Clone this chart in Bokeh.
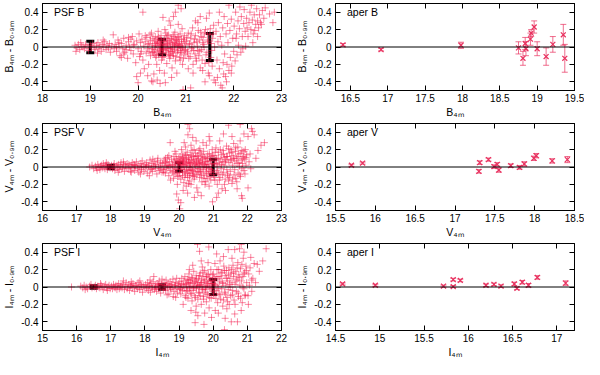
from bokeh.plotting import figure
from bokeh.models import (Range1d, FixedTicker, LinearAxis, Span, Label, Whisker,
                          TeeHead, ColumnDataSource, CustomJSTickFormatter)
from bokeh.layouts import gridplot
from bokeh.embed import file_html
from bokeh.resources import INLINE

# ---------------- data ----------------
# PSF B: (B_4m, B_4m - B_0.9m)
psf_b_points = [
    (18.68, 0.02), (18.72, -0.01), (18.75, 0.03), (18.78, -0.03), (18.82, 0.01), (18.85, 0.0),
    (18.88, -0.02), (18.9, 0.03), (18.93, 0.01), (18.96, -0.04), (19.0, 0.02), (19.02, -0.01),
    (19.05, 0.04), (19.08, 0.0), (19.1, -0.03), (19.13, 0.02), (19.16, 0.05), (19.18, -0.02),
    (19.2, 0.01), (19.23, -0.05), (19.25, 0.03), (19.28, 0.0), (19.3, 0.06), (19.33, -0.03),
    (19.35, 0.02), (19.38, -0.01), (19.4, 0.04), (19.42, -0.06), (19.45, 0.01), (19.48, 0.14),
    (19.5, -0.02), (18.8, 0.05), (18.7, -0.05), (19.15, -0.07), (19.27, 0.08),
    (19.52, 0.03), (19.55, -0.05), (19.58, 0.08), (19.6, 0.0), (19.62, -0.1), (19.65, 0.04),
    (19.68, -0.02), (19.7, 0.1), (19.72, -0.06), (19.75, 0.02), (19.78, -0.13), (19.8, 0.06),
    (19.82, 0.0), (19.85, -0.04), (19.88, 0.12), (19.9, -0.08), (19.92, 0.03), (19.95, -0.18),
    (19.97, 0.07), (20.0, -0.02), (20.02, 0.15), (20.03, -0.11), (20.05, 0.05), (20.07, -0.05),
    (20.08, 0.09), (20.1, 0.4), (20.1, -0.15), (20.12, 0.01), (20.13, -0.25), (20.15, 0.06),
    (20.17, -0.07), (20.18, 0.11), (20.2, -0.02), (20.22, -0.2), (20.23, 0.04), (20.25, 0.14),
    (20.26, -0.1), (20.28, 0.16), (20.28, -0.39), (20.3, 0.02), (20.31, -0.4), (20.32, -0.06),
    (19.97, -0.34), (20.0, -0.41), (20.05, -0.3), (19.65, -0.12), (19.85, 0.09), (20.2, -0.33),
    (20.33, -0.31), (20.34, 0.07), (20.35, -0.03), (20.36, 0.12), (20.37, -0.12), (20.38, 0.02),
    (20.39, -0.2), (20.4, 0.05), (20.41, -0.05), (20.42, 0.18), (20.43, -0.09), (20.44, 0.0),
    (20.45, -0.27), (20.46, 0.09), (20.47, -0.02), (20.48, 0.13), (20.49, -0.15), (20.5, 0.03),
    (20.51, -0.07), (20.52, 0.34), (20.53, 0.06), (20.54, -0.11), (20.55, 0.01), (20.56, 0.2),
    (20.57, -0.41), (20.58, -0.04), (20.59, 0.1), (20.6, -0.19), (20.61, 0.04), (20.62, -0.01),
    (20.63, 0.14), (20.64, -0.08), (20.65, 0.07), (20.66, -0.13), (20.67, 0.0), (20.68, 0.25),
    (20.69, -0.05), (20.7, 0.09), (20.71, -0.24), (20.72, 0.03), (20.73, 0.12), (20.74, 0.35),
    (20.74, -0.1), (20.75, 0.05), (20.76, -0.03), (20.77, 0.17), (20.78, -0.16), (20.79, 0.02),
    (20.8, 0.08), (20.81, -0.3), (20.82, -0.06), (20.83, 0.11), (20.84, 0.48), (20.84, 0.26),
    (20.85, -0.01), (20.86, 0.06), (20.87, -0.12), (20.88, 0.15), (20.89, 0.0), (20.9, 0.44),
    (20.9, -0.07), (20.91, 0.04), (20.92, 0.21), (20.93, -0.2), (20.94, -0.49), (20.95, 0.09),
    (20.96, -0.04), (20.97, 0.13), (20.98, -0.09), (20.99, 0.02), (20.36, 0.0), (20.44, 0.04),
    (20.52, -0.02), (20.6, 0.02), (20.68, -0.02), (20.76, 0.01), (20.84, 0.03), (20.92, -0.02),
    (20.4, -0.38), (20.46, -0.42), (20.55, -0.3), (20.65, 0.3), (20.78, 0.4), (20.7, -0.35),
    (21.01, 0.07), (21.03, -0.05), (21.05, 0.16), (21.06, -0.13), (21.08, 0.03), (21.1, -0.47),
    (21.1, 0.1), (21.12, -0.02), (21.14, 0.22), (21.15, -0.2), (21.17, 0.05), (21.19, -0.08),
    (21.2, 0.13), (21.22, -0.16), (21.24, 0.01), (21.25, 0.28), (21.27, -0.1), (21.28, 0.08),
    (21.3, -0.24), (21.31, 0.17), (21.33, -0.03), (21.35, -0.27), (21.36, 0.11), (21.38, 0.0),
    (21.4, -0.19), (21.41, 0.2), (21.43, 0.33), (21.44, -0.06), (21.46, 0.06), (21.47, -0.3),
    (21.49, 0.39), (21.49, -0.33), (21.5, 0.14), (21.52, -0.12), (21.53, 0.04), (21.55, -0.22),
    (21.56, 0.1), (21.58, 0.25), (21.59, -0.38), (21.6, 0.0), (21.62, -0.41), (21.2, 0.3),
    (21.3, 0.35), (21.15, -0.3), (21.4, -0.4), (21.05, -0.25), (21.45, 0.15), (21.35, 0.05),
    (21.25, -0.04),
    (21.63, 0.18), (21.65, -0.15), (21.67, 0.06), (21.68, 0.28), (21.7, -0.25), (21.72, 0.12),
    (21.73, -0.44), (21.75, 0.02), (21.76, -0.47), (21.77, 0.22), (21.79, -0.31), (21.8, 0.35),
    (21.81, -0.08), (21.83, -0.34), (21.84, 0.15), (21.86, -0.2), (21.87, 0.27), (21.88, 0.05),
    (21.9, -0.27), (21.9, 0.48), (21.92, 0.19), (21.93, -0.12), (21.95, 0.32), (21.96, -0.22),
    (21.98, 0.1), (22.0, -0.05), (22.01, 0.24), (22.03, -0.16), (22.04, 0.4), (22.06, 0.15),
    (22.07, -0.09), (22.09, 0.3), (22.1, 0.02), (22.12, 0.21), (22.13, 0.46), (22.15, -0.06),
    (22.16, 0.35), (22.18, 0.12), (22.19, -0.02), (22.21, 0.27), (22.22, 0.43), (22.24, 0.18),
    (22.25, 0.01), (22.27, 0.33), (22.28, 0.22), (22.3, 0.12), (21.7, 0.4), (21.85, -0.4),
    (21.95, -0.3), (21.78, -0.18), (22.05, 0.1), (21.66, -0.35),
    (22.32, 0.28), (22.34, 0.4), (22.36, 0.2), (22.37, 0.48), (22.39, 0.31), (22.41, 0.15),
    (22.43, 0.37), (22.44, 0.19), (22.46, 0.26), (22.48, 0.44), (22.5, 0.3), (22.52, 0.22),
    (22.54, 0.37), (22.56, 0.28), (22.58, 0.26), (22.6, 0.42), (22.63, 0.33), (22.66, 0.45),
    (22.75, 0.38), (22.82, 0.28), (22.85, 0.4), (22.4, 0.05), (22.5, 0.12),
]
psf_b_core = [
    (20.21, 0.03), (20.23, -0.05), (20.26, 0.08), (20.29, -0.02), (20.31, 0.1), (20.34, -0.08),
    (20.36, 0.04), (20.38, -0.1), (20.41, 0.06), (20.43, 0.11), (20.45, -0.04), (20.47, 0.02),
    (20.49, 0.07), (20.51, -0.12), (20.53, -0.03), (20.55, 0.09), (20.57, 0.03), (20.59, -0.06),
    (20.61, 0.13), (20.63, -0.02), (20.65, -0.09), (20.67, 0.05), (20.69, 0.1), (20.71, -0.01),
    (20.73, -0.07), (20.75, 0.14), (20.77, 0.04), (20.79, -0.11), (20.81, 0.07), (20.83, -0.04),
    (20.85, 0.12), (20.87, 0.02), (20.89, -0.06), (20.91, 0.09), (20.93, 0.0), (20.95, -0.13),
    (20.97, 0.06), (20.99, -0.03), (21.02, 0.11), (21.04, -0.07), (21.07, 0.04), (21.09, -0.11),
    (21.11, 0.15), (21.13, 0.0), (21.16, -0.04), (21.18, 0.09), (21.21, -0.13), (21.23, 0.06),
    (21.26, 0.19), (21.29, -0.05), (21.32, 0.12), (21.34, -0.15), (21.37, 0.03), (21.39, 0.16),
    (21.42, -0.09), (21.45, 0.08), (21.48, -0.18), (21.51, 0.21), (21.54, -0.04), (21.57, 0.15),
    (20.62, 0.07), (20.72, -0.05), (20.82, 0.01), (20.48, -0.06), (20.58, 0.16), (20.78, 0.09),
    (20.88, -0.15), (20.68, -0.1), (20.4, 0.09), (20.3, -0.06), (19.6, 0.05), (19.75, -0.03),
    (19.9, 0.02), (20.05, -0.08), (19.8, 0.11), (19.7, -0.08), (20.15, 0.13), (19.55, 0.0),
]

psf_v_points = [
    (17.38, 0.0), (17.45, 0.02), (17.5, -0.02), (17.55, 0.01), (17.58, -0.01), (17.62, 0.03),
    (17.65, 0.0), (17.68, -0.03), (17.7, 0.01), (17.73, 0.02), (17.75, -0.01), (17.78, 0.04),
    (17.8, 0.0), (17.83, -0.02), (17.85, 0.02), (17.88, 0.01), (17.9, -0.03), (17.92, 0.03),
    (17.95, 0.0), (17.98, -0.01), (18.02, 0.02), (18.05, -0.02), (18.08, 0.01), (18.1, 0.04),
    (18.12, -0.04), (18.15, 0.0), (18.18, 0.02), (18.2, -0.01), (18.23, 0.03), (18.25, -0.03),
    (18.28, 0.01), (18.3, 0.05), (18.33, -0.02), (18.35, 0.0), (18.38, 0.03), (18.4, -0.05),
    (18.43, 0.02), (18.45, -0.01), (18.48, 0.04), (17.6, -0.04), (17.87, 0.05), (18.22, -0.06),
    (18.37, 0.06),
    (18.51, -0.02), (18.53, 0.03), (18.56, 0.0), (18.58, -0.05), (18.6, 0.02), (18.63, 0.05),
    (18.65, -0.01), (18.68, 0.03), (18.7, -0.04), (18.72, 0.01), (18.75, 0.06), (18.78, -0.02),
    (18.8, 0.02), (18.82, -0.06), (18.85, 0.0), (18.88, 0.04), (18.9, -0.03), (18.92, 0.07),
    (18.95, 0.01), (18.97, -0.05), (19.0, 0.03), (19.02, -0.01), (19.05, 0.05), (19.07, -0.07),
    (19.1, 0.02), (19.12, 0.0), (19.15, 0.08), (19.17, -0.03), (19.2, 0.04), (19.22, -0.05),
    (19.25, 0.01), (19.27, 0.06), (19.3, -0.02), (19.32, 0.03), (19.35, -0.08), (19.37, 0.07),
    (19.4, 0.0), (19.42, -0.04), (19.45, 0.05), (19.47, 0.02), (19.5, -0.06), (18.6, -0.06),
    (18.87, -0.08), (19.13, -0.1), (19.38, 0.1), (19.23, 0.09),
    (19.52, 0.04), (19.54, -0.03), (19.56, 0.08), (19.58, 0.0), (19.6, -0.07), (19.62, 0.05),
    (19.64, -0.02), (19.66, 0.11), (19.68, 0.02), (19.7, -0.1), (19.72, 0.06), (19.74, 0.28),
    (19.74, -0.04), (19.76, 0.01), (19.78, 0.09), (19.8, -0.06), (19.82, 0.03), (19.84, -0.13),
    (19.85, 0.12), (19.87, 0.0), (19.88, -0.08), (19.9, 0.05), (19.91, 0.15), (19.93, -0.31),
    (19.93, -0.03), (19.95, 0.07), (19.96, -0.11), (19.98, -0.38), (19.98, 0.02), (19.99, 0.1),
    (19.6, 0.1), (19.7, 0.13), (19.75, -0.15), (19.88, 0.18), (19.95, -0.2), (19.55, -0.06),
    (19.65, 0.02),
    (20.01, 0.05), (20.02, -0.48), (20.02, -0.06), (20.03, 0.12), (20.04, 0.0), (20.05, -0.41),
    (20.05, -0.14), (20.06, 0.08), (20.07, 0.2), (20.08, -0.03), (20.09, 0.03), (20.1, -0.1),
    (20.11, 0.15), (20.12, -0.27), (20.12, 0.01), (20.13, 0.07), (20.14, -0.18), (20.15, 0.1),
    (20.16, -0.05), (20.17, 0.02), (20.18, 0.13), (20.19, 0.23), (20.19, -0.08), (20.2, 0.04),
    (20.21, -0.22), (20.22, 0.09), (20.23, -0.01), (20.24, 0.17), (20.25, -0.12), (20.26, 0.49),
    (20.26, 0.37), (20.27, 0.06), (20.28, -0.04), (20.29, 0.11), (20.3, -0.16), (20.31, 0.44),
    (20.31, 0.02), (20.32, -0.07), (20.33, 0.14), (20.34, 0.0), (20.35, -0.2), (20.36, 0.08),
    (20.37, -0.03), (20.38, 0.19), (20.39, -0.1), (20.4, 0.34), (20.4, 0.05), (20.41, -0.05),
    (20.42, 0.12), (20.44, -0.14), (20.45, 0.03), (20.46, 0.09), (20.47, -0.02), (20.48, 0.16),
    (20.5, -0.09), (20.51, 0.06), (20.52, -0.24), (20.53, 0.01), (20.54, 0.13), (20.55, -0.29),
    (20.56, -0.05), (20.57, 0.1), (20.58, 0.03), (20.6, -0.12), (20.61, 0.21), (20.62, 0.0),
    (20.63, 0.07), (20.64, -0.07), (20.66, 0.14), (20.67, -0.17), (20.68, 0.04), (20.69, 0.09),
    (20.7, -0.03), (20.72, 0.18), (20.73, -0.1), (20.74, 0.02), (20.75, 0.11), (20.76, -0.2),
    (20.78, 0.06), (20.79, -0.05), (20.8, 0.25), (20.81, 0.0), (20.82, -0.13), (20.84, 0.1),
    (20.85, 0.03), (20.86, -0.08), (20.88, 0.35), (20.88, -0.22), (20.89, 0.15), (20.9, -0.02),
    (20.91, 0.07), (20.93, -0.15), (20.94, 0.12), (20.95, 0.01), (20.96, -0.06), (20.97, 0.2),
    (20.98, -0.4), (20.99, 0.04), (20.15, 0.28), (20.35, 0.25), (20.5, 0.3), (20.65, -0.33),
    (20.7, 0.28), (20.9, 0.3), (20.45, -0.35), (20.25, -0.3), (20.6, 0.05), (20.3, 0.05),
    (20.1, 0.06), (20.8, -0.01),
    (21.01, -0.09), (21.02, 0.13), (21.04, 0.03), (21.05, -0.15), (21.06, 0.08), (21.08, 0.22),
    (21.09, -0.04), (21.1, 0.1), (21.12, -0.2), (21.13, 0.01), (21.15, 0.17), (21.16, -0.08),
    (21.18, 0.05), (21.19, 0.3), (21.2, -0.12), (21.22, 0.09), (21.23, -0.02), (21.25, 0.14),
    (21.26, -0.25), (21.28, 0.06), (21.29, 0.19), (21.3, -0.06), (21.32, 0.02), (21.33, 0.11),
    (21.35, -0.14), (21.36, -0.27), (21.37, 0.08), (21.39, 0.24), (21.4, -0.03), (21.42, 0.12),
    (21.43, -0.1), (21.45, 0.48), (21.45, -0.16), (21.46, 0.05), (21.48, 0.16), (21.5, -0.05),
    (21.52, 0.2), (21.53, 0.09), (21.55, -0.19), (21.57, 0.02), (21.58, 0.13), (21.6, 0.27),
    (21.61, -0.09), (21.63, 0.07), (21.65, 0.18), (21.66, -0.13), (21.68, 0.1), (21.7, 0.04),
    (21.72, 0.23), (21.73, -0.07), (21.75, 0.15), (21.77, 0.01), (21.79, 0.49), (21.79, 0.3),
    (21.8, -0.11), (21.82, 0.08), (21.83, -0.33), (21.84, 0.19), (21.85, -0.36), (21.86, 0.04),
    (21.88, 0.12), (21.9, -0.04), (21.92, 0.09), (21.94, 0.2), (21.96, 0.02), (21.98, 0.14),
    (21.15, -0.3), (21.55, 0.35), (21.7, -0.25), (21.3, 0.38), (21.9, 0.38), (21.1, -0.35),
    (22.02, 0.35), (22.02, -0.24), (22.05, 0.06), (22.08, 0.15), (22.12, 0.44), (22.15, 0.41),
    (22.2, 0.37), (22.25, 0.1), (22.31, 0.19), (22.4, 0.25), (22.5, 0.28), (22.1, -0.02),
]
psf_v_core = [
    (19.81, 0.02), (19.83, -0.05), (19.86, 0.07), (19.89, -0.02), (19.92, 0.09), (19.94, -0.07),
    (19.97, 0.04), (20.0, -0.1), (20.03, 0.06), (20.06, -0.01), (20.09, 0.11), (20.11, -0.06),
    (20.14, 0.03), (20.17, -0.12), (20.2, 0.14), (20.23, 0.05), (20.25, -0.07), (20.28, 0.09),
    (20.31, -0.1), (20.34, 0.04), (20.37, 0.13), (20.39, -0.04), (20.42, 0.07), (20.45, -0.11),
    (20.48, 0.02), (20.5, 0.12), (20.53, -0.06), (20.56, 0.08), (20.59, -0.02), (20.62, 0.16),
    (20.65, -0.09), (20.67, 0.05), (20.7, 0.12), (20.73, -0.13), (20.76, 0.03), (20.79, 0.1),
    (20.81, -0.07), (20.84, 0.15), (20.87, 0.0), (20.9, -0.11), (20.93, 0.08), (20.95, -0.03),
    (20.98, 0.13), (21.03, -0.12), (21.06, 0.17), (21.09, 0.04), (21.12, -0.06), (21.15, 0.1),
    (21.18, -0.15), (21.21, 0.2), (21.24, 0.03), (21.27, -0.09), (21.3, 0.15), (21.33, -0.2),
    (21.36, 0.06), (21.39, 0.12), (21.42, -0.08), (21.45, 0.21), (21.48, -0.12), (21.51, 0.08),
    (21.54, 0.17), (21.57, -0.14), (21.6, 0.1), (21.63, -0.03), (21.66, 0.22), (21.69, -0.17),
    (21.72, 0.12), (21.75, 0.05), (21.78, -0.09), (21.81, 0.16), (21.84, -0.02), (21.87, 0.1),
    (21.9, 0.18), (21.93, -0.08), (21.96, 0.11), (20.12, 0.08), (20.22, -0.03), (20.32, 0.0),
    (20.42, -0.08), (20.52, 0.04), (20.62, -0.05), (20.72, 0.0), (20.82, 0.06), (20.92, -0.05),
    (20.44, 0.2), (20.58, 0.19), (20.78, -0.17), (20.28, -0.19), (19.3, 0.01), (19.45, -0.02),
    (19.6, 0.06), (19.7, 0.0), (18.9, 0.0), (19.05, 0.01), (19.2, -0.02), (18.7, 0.02),
]

psf_i_points = [
    (15.85, 0.0), (16.12, 0.01), (16.18, -0.01), (16.22, 0.02), (16.28, 0.0), (16.32, -0.02),
    (16.38, 0.01), (16.42, 0.03), (16.45, -0.01), (16.52, 0.0), (16.55, 0.02), (16.58, -0.02),
    (16.62, 0.01), (16.65, 0.0), (16.68, -0.01), (16.72, 0.02), (16.75, 0.0), (16.78, -0.03),
    (16.82, 0.01), (16.85, 0.03), (16.88, -0.01), (16.92, 0.0), (16.95, 0.02), (16.98, -0.02),
    (16.25, -0.03), (16.7, 0.04), (16.9, -0.04),
    (17.02, 0.01), (17.05, -0.02), (17.08, 0.03), (17.1, 0.0), (17.13, -0.01), (17.15, 0.02),
    (17.18, -0.03), (17.2, 0.01), (17.23, 0.04), (17.25, -0.02), (17.28, 0.0), (17.3, 0.02),
    (17.33, -0.01), (17.35, 0.03), (17.37, 0.07), (17.4, -0.03), (17.42, 0.01), (17.45, 0.05),
    (17.48, -0.02), (17.5, 0.0), (17.53, 0.03), (17.55, -0.04), (17.58, 0.01), (17.6, 0.02),
    (17.63, -0.01), (17.65, 0.04), (17.68, 0.0), (17.7, -0.05), (17.73, 0.02), (17.75, 0.01),
    (17.78, -0.02), (17.8, 0.05), (17.83, 0.0), (17.85, -0.03), (17.88, 0.03), (17.9, 0.01),
    (17.93, -0.06), (17.95, 0.02), (17.98, -0.01), (17.6, 0.06), (17.85, 0.07),
    (18.02, 0.03), (18.04, -0.02), (18.06, 0.0), (18.08, 0.05), (18.1, -0.04), (18.12, 0.01),
    (18.14, 0.02), (18.16, -0.06), (18.18, 0.04), (18.2, 0.0), (18.22, -0.02), (18.24, 0.06),
    (18.26, 0.12), (18.28, -0.03), (18.3, 0.02), (18.32, 0.0), (18.34, -0.05), (18.36, 0.04),
    (18.38, 0.01), (18.4, -0.02), (18.42, 0.07), (18.44, 0.0), (18.46, -0.07), (18.48, 0.03),
    (18.52, 0.01), (18.54, -0.03), (18.56, 0.05), (18.58, 0.0), (18.6, -0.04), (18.62, 0.08),
    (18.64, 0.02), (18.66, -0.01), (18.68, 0.04), (18.7, -0.08), (18.72, 0.01), (18.74, 0.06),
    (18.76, -0.03), (18.78, 0.03), (18.8, 0.0), (18.82, 0.09), (18.83, -0.11), (18.85, -0.05),
    (18.87, 0.02), (18.89, 0.05), (18.91, -0.02), (18.93, 0.1), (18.95, -0.07), (18.97, 0.01),
    (18.99, 0.04), (18.5, 0.09), (18.65, -0.09), (18.9, -0.12), (18.15, 0.08),
    (19.01, -0.03), (19.02, 0.06), (19.04, 0.0), (19.05, -0.08), (19.07, 0.03), (19.08, 0.1),
    (19.1, -0.04), (19.12, -0.2), (19.12, 0.02), (19.14, 0.07), (19.15, -0.01), (19.17, 0.12),
    (19.18, -0.1), (19.2, 0.04), (19.21, -0.05), (19.23, 0.0), (19.24, 0.09), (19.26, -0.13),
    (19.27, 0.05), (19.29, 0.15), (19.3, -0.02), (19.32, 0.08), (19.33, -0.07), (19.35, -0.27),
    (19.35, 0.01), (19.37, 0.11), (19.38, -0.16), (19.4, 0.04), (19.41, -0.04), (19.43, 0.18),
    (19.44, 0.0), (19.46, -0.1), (19.47, -0.41), (19.48, 0.07), (19.49, -0.29), (19.5, 0.13),
    (19.51, -0.02), (19.53, 0.05), (19.54, 0.49), (19.55, -0.33), (19.55, -0.14), (19.57, 0.1),
    (19.58, 0.01), (19.6, 0.41), (19.6, -0.07), (19.62, 0.16), (19.63, 0.03), (19.65, -0.2),
    (19.66, 0.08), (19.68, 0.23), (19.68, -0.03), (19.7, 0.12), (19.71, -0.11), (19.73, -0.43),
    (19.73, 0.05), (19.75, 0.19), (19.76, -0.06), (19.78, 0.0), (19.79, 0.09), (19.8, -0.17),
    (19.82, 0.14), (19.83, 0.02), (19.85, -0.09), (19.87, 0.46), (19.87, 0.06), (19.88, -0.24),
    (19.9, 0.11), (19.91, -0.01), (19.93, 0.2), (19.94, -0.13), (19.96, 0.04), (19.97, 0.08),
    (19.99, -0.05), (19.4, 0.25), (19.5, -0.22), (19.65, 0.3), (19.75, -0.3), (19.85, 0.28),
    (19.95, -0.35), (19.3, 0.2), (19.2, -0.12),
    (20.01, 0.15), (20.02, -0.1), (20.04, 0.03), (20.05, 0.27), (20.06, -0.27), (20.07, 0.08),
    (20.09, -0.04), (20.1, 0.38), (20.11, 0.12), (20.13, -0.18), (20.14, 0.01), (20.16, 0.2),
    (20.17, -0.08), (20.19, 0.06), (20.2, 0.3), (20.22, -0.14), (20.23, 0.1), (20.25, -0.02),
    (20.26, 0.17), (20.28, -0.22), (20.29, 0.04), (20.31, 0.24), (20.33, -0.49), (20.33, -0.06),
    (20.35, -0.36), (20.35, 0.13), (20.37, 0.02), (20.39, 0.19), (20.4, -0.12), (20.42, 0.07),
    (20.44, 0.43), (20.44, -0.03), (20.46, 0.22), (20.47, -0.2), (20.49, 0.1), (20.5, 0.0),
    (20.52, 0.16), (20.53, -0.4), (20.55, 0.05), (20.56, -0.09), (20.58, 0.25), (20.6, 0.12),
    (20.61, -0.15), (20.63, -0.31), (20.63, 0.43), (20.64, 0.03), (20.66, 0.18), (20.68, -0.05),
    (20.7, 0.09), (20.71, -0.4), (20.72, 0.28), (20.74, -0.11), (20.75, 0.14), (20.77, 0.44),
    (20.78, 0.02), (20.8, 0.21), (20.82, 0.49), (20.82, -0.27), (20.83, 0.07), (20.85, -0.18),
    (20.87, 0.12), (20.88, 0.33), (20.9, -0.02), (20.92, 0.17), (20.94, -0.09), (20.96, 0.24),
    (20.98, 0.05), (20.3, 0.35), (20.55, 0.33), (20.9, 0.4), (20.15, -0.3), (20.4, -0.25),
    (21.02, -0.1), (21.04, 0.15), (21.06, 0.02), (21.08, 0.22), (21.1, 0.34), (21.13, -0.05),
    (21.16, 0.1), (21.2, 0.27), (21.24, 0.05), (21.29, 0.26), (21.35, 0.18), (21.45, 0.3),
    (21.55, 0.44), (21.03, -0.2), (21.12, 0.08),
]
psf_i_core = [
    (19.21, 0.03), (19.24, -0.04), (19.27, 0.08), (19.3, 0.0), (19.33, 0.05), (19.36, -0.08),
    (19.39, 0.1), (19.42, -0.01), (19.45, 0.06), (19.48, -0.12), (19.51, 0.09), (19.54, 0.02),
    (19.57, -0.06), (19.6, 0.13), (19.62, -0.1), (19.65, 0.05), (19.67, 0.0), (19.7, 0.17),
    (19.72, -0.14), (19.74, 0.07), (19.77, -0.03), (19.8, 0.12), (19.82, -0.08), (19.84, 0.04),
    (19.86, 0.15), (19.89, -0.12), (19.92, 0.07), (19.95, -0.02), (19.98, 0.14), (20.01, -0.07),
    (20.03, 0.1), (20.06, 0.02), (20.08, -0.13), (20.11, 0.2), (20.14, -0.02), (20.17, 0.12),
    (20.2, -0.09), (20.23, 0.16), (20.27, 0.05), (20.3, -0.15), (20.33, 0.19), (20.36, -0.08),
    (20.39, 0.1), (20.42, -0.17), (20.45, 0.14), (20.48, 0.03), (20.51, -0.1), (20.54, 0.2),
    (20.57, -0.04), (20.6, 0.16), (20.64, -0.2), (20.67, 0.07), (20.7, 0.22), (20.73, -0.07),
    (20.76, 0.11), (20.8, -0.13), (20.84, 0.26), (20.87, 0.0), (20.9, 0.15), (20.93, -0.1),
    (20.97, 0.19), (19.5, 0.0), (19.6, 0.02), (19.7, -0.02), (19.8, 0.01), (19.9, 0.0),
    (20.0, 0.04), (18.6, 0.02), (18.75, -0.01), (18.9, 0.02), (19.05, -0.02), (18.4, 0.03),
    (18.3, -0.01),
]

# Black mean error bars on PSF panels
psf_b_bar_x = [19.0, 20.5, 21.5]
psf_b_bar_err = [0.065, 0.09, 0.155]
psf_v_bar_x = [18.0, 20.0, 21.0]
psf_v_bar_err = [0.02, 0.05, 0.09]
psf_i_bar_x = [16.5, 18.5, 20.0]
psf_i_bar_err = [0.015, 0.025, 0.085]

# Aperture photometry
aper_b_mag = [16.40, 16.91, 17.98, 18.75, 18.81, 18.84, 18.85, 18.91, 18.92, 18.96, 19.00,
              19.12, 19.21, 19.35, 19.37]
aper_b_diff = [0.025, -0.03, 0.02, -0.01, -0.13, 0.04, -0.02, 0.09, 0.16, 0.23, -0.02,
               -0.11, 0.03, 0.14, -0.13]
aper_b_err = [0.015, 0.015, 0.035, 0.07, 0.08, 0.07, 0.08, 0.07, 0.04, 0.07, 0.08,
              0.1, 0.09, 0.12, 0.16]

aper_v_mag = [15.70, 15.84, 17.31, 17.30, 17.42, 17.49, 17.53, 17.55, 17.70, 17.81, 17.87,
              17.99, 18.02, 18.22, 18.41]
aper_v_diff = [0.02, 0.045, 0.05, -0.05, 0.085, 0.005, 0.03, -0.035, 0.015, -0.005, 0.035,
               0.1, 0.13, 0.07, 0.085]
aper_v_err = [0.012, 0.012, 0.02, 0.02, 0.018, 0.02, 0.02, 0.025, 0.02, 0.02, 0.025,
              0.025, 0.025, 0.025, 0.035]

aper_i_mag = [14.58, 14.95, 15.72, 15.83, 15.83, 15.91, 16.20, 16.29, 16.37, 16.52, 16.55,
              16.61, 16.68, 16.78, 17.10]
aper_i_diff = [0.035, 0.02, 0.01, 0.085, 0.005, 0.075, 0.02, 0.03, 0.01, 0.035, -0.015,
               0.055, 0.02, 0.11, 0.045]
aper_i_err = [0.012, 0.012, 0.012, 0.015, 0.012, 0.015, 0.015, 0.015, 0.015, 0.02, 0.015,
              0.02, 0.02, 0.02, 0.025]

# axis ranges / ticks
psf_b_xrange = (18.0, 23.0)
psf_v_xrange = (16.0, 23.0)
psf_i_xrange = (15.0, 22.0)
aper_b_xrange = (16.3, 19.5)
aper_v_xrange = (15.5, 18.5)
aper_i_xrange = (14.5, 17.2)
psf_b_xticks = [18, 19, 20, 21, 22, 23]
psf_v_xticks = [16, 17, 18, 19, 20, 21, 22, 23]
psf_i_xticks = [15, 16, 17, 18, 19, 20, 21, 22]
aper_b_xticks = [16.5, 17, 17.5, 18, 18.5, 19, 19.5]
aper_v_xticks = [15.5, 16, 16.5, 17, 17.5, 18, 18.5]
aper_i_xticks = [14.5, 15, 15.5, 16, 16.5, 17]
y_range = (-0.5, 0.5)
y_ticks = [-0.4, -0.2, 0, 0.2, 0.4]

# ---------------- styling ----------------
FONT = "Liberation Sans"
RED = "#f5174a"
PINK = "#e8305e"
FW, FH = 239, 87

fmt = CustomJSTickFormatter(code="return String(Math.round(tick*100)/100);")


def make_panel(xr, xticks, band, title, left_col):
    p = figure(frame_width=FW, frame_height=FH,
               x_range=Range1d(*xr), y_range=Range1d(*y_range),
               output_backend="svg", toolbar_location=None,
               min_border_left=38, min_border_right=12 if left_col else 10,
               min_border_top=3, min_border_bottom=29)
    p.background_fill_color = "white"
    p.border_fill_color = "white"
    p.outline_line_color = "black"
    p.outline_line_width = 1
    p.grid.visible = False
    for ax in (p.xaxis[0], p.yaxis[0]):
        ax.major_tick_in = 5
        ax.major_tick_out = 0
        ax.minor_tick_line_color = None
        ax.axis_line_color = "black"
        ax.major_tick_line_color = "black"
        ax.major_label_text_font = FONT
        ax.major_label_text_font_size = "10px"
        ax.major_label_text_color = "black"
        ax.axis_label_text_font = FONT
        ax.axis_label_text_font_size = "10.5px"
        ax.axis_label_text_font_style = "normal"
        ax.axis_label_text_color = "black"
        ax.formatter = fmt
    p.xaxis[0].ticker = FixedTicker(ticks=xticks)
    p.yaxis[0].ticker = FixedTicker(ticks=y_ticks)
    p.xaxis[0].major_label_standoff = 3
    p.xaxis[0].axis_label_standoff = 1
    p.yaxis[0].major_label_standoff = 4
    p.yaxis[0].axis_label_standoff = 3
    p.xaxis[0].axis_label = f"{band}\u2084\u2098"
    p.yaxis[0].axis_label = f"{band}\u2084\u2098 - {band}\u2080.\u2089\u2098"
    # mirrored ticks (top / right), no labels drawn
    top = LinearAxis(ticker=FixedTicker(ticks=xticks), major_label_text_color=None,
                     major_tick_in=5, major_tick_out=0, major_label_standoff=0,
                     minor_tick_line_color=None, axis_line_color="black")
    right = LinearAxis(ticker=FixedTicker(ticks=y_ticks), major_label_text_color=None,
                       major_tick_in=5, major_tick_out=0, major_label_standoff=0,
                       minor_tick_line_color=None, axis_line_color="black")
    p.add_layout(top, "above")
    p.add_layout(right, "right")
    p.add_layout(Span(location=0, dimension="width", line_color="black", line_width=1))
    span = xr[1] - xr[0]
    p.add_layout(Label(x=xr[0] + 0.048 * span, y=0.4, text=title, text_font=FONT,
                       text_font_size="10.5px", text_color="black",
                       text_baseline="middle", text_align="left"))
    return p


def add_psf(p, pts, bar_x, bar_err):
    xs = [a for a, b in pts]
    ys = [b for a, b in pts]
    p.scatter(xs, ys, marker="cross", size=7, line_color=RED, line_alpha=0.5, line_width=1)
    src = ColumnDataSource(dict(x=bar_x, lo=[-e for e in bar_err], hi=[e for e in bar_err]))
    p.add_layout(Whisker(source=src, base="x", lower="lo", upper="hi", dimension="height",
                         line_color="black", line_width=3,
                         upper_head=TeeHead(size=8, line_color="black", line_width=3),
                         lower_head=TeeHead(size=8, line_color="black", line_width=3)))


def add_aper(p, mag, diff, err):
    src = ColumnDataSource(dict(x=mag, y=diff,
                                lo=[d - e for d, e in zip(diff, err)],
                                hi=[d + e for d, e in zip(diff, err)]))
    p.add_layout(Whisker(source=src, base="x", lower="lo", upper="hi", dimension="height",
                         line_color=PINK, line_alpha=0.7, line_width=1,
                         upper_head=TeeHead(size=6, line_color=PINK, line_alpha=0.7, line_width=1),
                         lower_head=TeeHead(size=6, line_color=PINK, line_alpha=0.7, line_width=1)))
    p.scatter("x", "y", source=src, marker="x", size=7, line_color=PINK, line_width=1.2)


p1 = make_panel(psf_b_xrange, psf_b_xticks, "B", "PSF B", True)
add_psf(p1, psf_b_points + psf_b_core, psf_b_bar_x, psf_b_bar_err)
p2 = make_panel(aper_b_xrange, aper_b_xticks, "B", "aper B", False)
add_aper(p2, aper_b_mag, aper_b_diff, aper_b_err)
p3 = make_panel(psf_v_xrange, psf_v_xticks, "V", "PSF V", True)
add_psf(p3, psf_v_points + psf_v_core, psf_v_bar_x, psf_v_bar_err)
p4 = make_panel(aper_v_xrange, aper_v_xticks, "V", "aper V", False)
add_aper(p4, aper_v_mag, aper_v_diff, aper_v_err)
p5 = make_panel(psf_i_xrange, psf_i_xticks, "I", "PSF I", True)
add_psf(p5, psf_i_points + psf_i_core, psf_i_bar_x, psf_i_bar_err)
p6 = make_panel(aper_i_xrange, aper_i_xticks, "I", "aper I", False)
add_aper(p6, aper_i_mag, aper_i_diff, aper_i_err)

grid = gridplot([[p1, p2], [p3, p4], [p5, p6]], toolbar_location=None)

with open("out.html", "w") as f:
    f.write(file_html(grid, INLINE, title="photometry comparison"))
